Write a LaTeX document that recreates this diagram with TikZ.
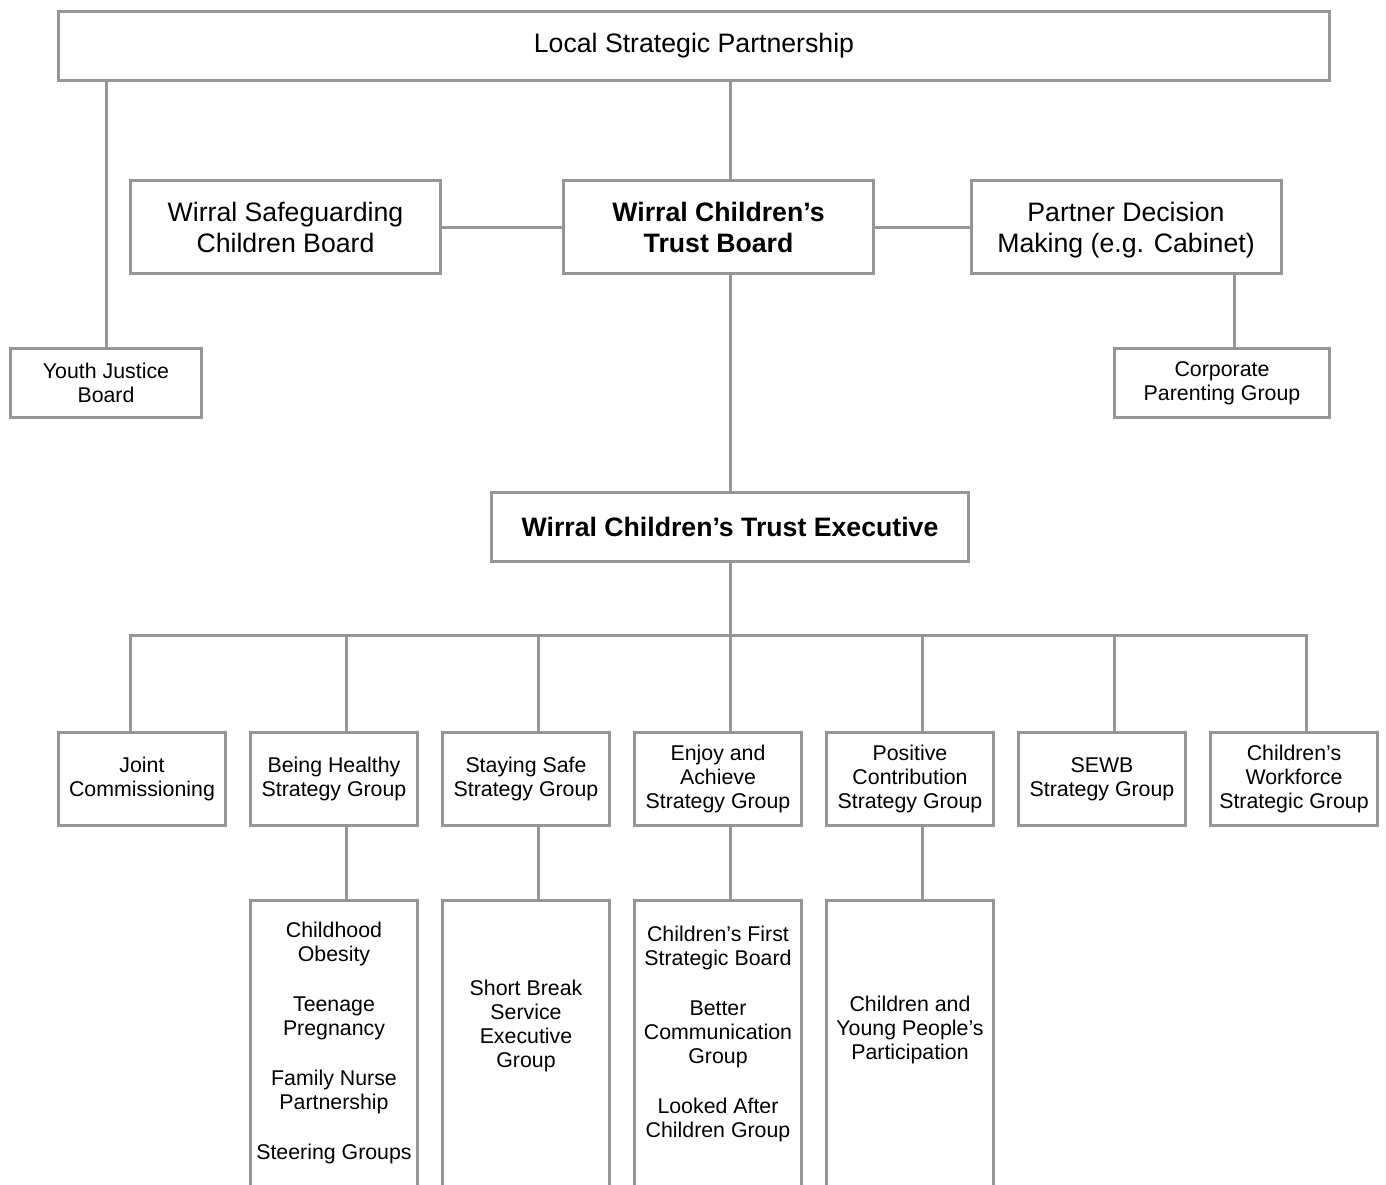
\documentclass[tikz,border=0pt]{standalone}
\usepackage{fontspec}
\setmainfont{Liberation Sans}
\usetikzlibrary{positioning}
\definecolor{wctLine}{HTML}{969696}
\tikzset{
  orgbox/.style   = {draw=wctLine, line width=2.25pt, fill=white, align=center,
                     inner sep=0pt, font=\fontsize{20}{23.25}\selectfont},
  bigbox/.style   = {orgbox, minimum width=232.5pt, minimum height=69.75pt},
  smallbox/.style = {orgbox, minimum height=51.75pt, font=\fontsize{16}{18}\selectfont},
  groupbox/.style = {orgbox, minimum width=125.25pt, minimum height=69.75pt,
                     font=\fontsize{16}{18}\selectfont},
  subbox/.style   = {draw=wctLine, line width=2.25pt, minimum width=125.25pt,
                     minimum height=300pt},
  subtext/.style  = {anchor=north, align=center, inner sep=0pt,
                     font=\fontsize{16}{18}\selectfont},
  tie/.style      = {draw=wctLine, line width=2.25pt},
}

\begin{document}
\begin{tikzpicture}[x=0.75pt, y=-0.75pt]
  \useasboundingbox (0,0) rectangle (1386,1185);

  % top of the structure
  \node[orgbox, minimum width=953.25pt, minimum height=51.75pt] (lsp) at (694,46)
    {Local Strategic Partnership};
  \node[bigbox] (wscb) at (285.5,227) {Wirral Safeguarding\\Children Board};
  \node[bigbox, font=\fontsize{20}{23.25}\selectfont\bfseries] (trust) at (718.5,227)
    {Wirral Children’s\\Trust Board};
  \node[bigbox] (pdm) at (1126,227)
    {Partner Decision\\\raisebox{0pt}[\height][0pt]{Making (e.g. Cabinet)}};
  \node[smallbox, minimum width=143.25pt] (yjb) at (106,383) {Youth Justice\\Board};
  \node[smallbox, minimum width=161.25pt] (cpg) at (1222,383)
    {Corporate\\Parenting Group};
  \node[orgbox, minimum width=357.75pt, minimum height=51.75pt,
        font=\fontsize{20}{23.25}\selectfont\bfseries] (exec) at (730,527)
    {Wirral Children’s Trust Executive};

  \draw[tie] (lsp.south -| exec.north) -- (trust.north -| exec.north);
  \draw[tie] (trust.south -| exec.north) -- (exec.north);
  \draw[tie] (lsp.south -| yjb.north) -- (yjb.north);
  \draw[tie] (wscb.east) -- (trust.west);
  \draw[tie] (trust.east) -- (pdm.west);
  \coordinate (cpgtop) at ([xshift=9pt]cpg.north);
  \draw[tie] (cpgtop |- pdm.south) -- (cpgtop);

  % strategy groups
  \node[groupbox] (joint) at (142,779) {Joint\\Commissioning};
  \node[groupbox, right=16.5pt of joint] (healthy) {Being Healthy\\Strategy Group};
  \node[groupbox, right=16.5pt of healthy] (safe) {Staying Safe\\Strategy Group};
  \node[groupbox, right=16.5pt of safe] (enjoy) {Enjoy and\\Achieve\\Strategy Group};
  \node[groupbox, right=16.5pt of enjoy] (positive)
    {Positive\\Contribution\\Strategy Group};
  \node[groupbox, right=16.5pt of positive] (sewb) {SEWB\\Strategy Group};
  \node[groupbox, right=16.5pt of sewb] (workforce)
    {Children’s\\Workforce\\Strategic Group};

  \coordinate (bus) at ([yshift=-54pt]exec.south);
  \coordinate (jointtop) at ([xshift=-9pt]joint.north);
  \coordinate (healthytop) at ([xshift=9pt]healthy.north);
  \coordinate (safetop) at ([xshift=9pt]safe.north);
  \coordinate (enjoytop) at ([xshift=9pt]enjoy.north);
  \coordinate (positivetop) at ([xshift=9pt]positive.north);
  \coordinate (sewbtop) at ([xshift=9pt]sewb.north);
  \coordinate (workforcetop) at ([xshift=9pt]workforce.north);

  \draw[tie] (exec.south) -- (bus);
  \draw[tie] (jointtop) -- (jointtop |- bus) -- (workforcetop |- bus) -- (workforcetop);
  \draw[tie] (healthytop |- bus) -- (healthytop);
  \draw[tie] (safetop |- bus) -- (safetop);
  \draw[tie] (enjoytop |- bus) -- (enjoytop);
  \draw[tie] (positivetop |- bus) -- (positivetop);
  \draw[tie] (sewbtop |- bus) -- (sewbtop);

  % sub groups, running off the page
  \node[subbox, anchor=north, below=54pt of healthy] (healthysub) {};
  \node[subbox, anchor=north, below=54pt of safe] (safesub) {};
  \node[subbox, anchor=north, below=54pt of enjoy] (enjoysub) {};
  \node[subbox, anchor=north, below=54pt of positive] (positivesub) {};

  \node[subtext, below=16.7pt of healthysub.north] (healthylist)
    {Childhood\\Obesity\\[19.5pt]Teenage\\Pregnancy\\[19.5pt]Family Nurse\\Partnership\\[19.5pt]Steering Groups};
  \node[subtext, below=60.2pt of safesub.north] (safelist)
    {Short Break\\Service\\Executive\\Group};
  \node[subtext, below=19.7pt of enjoysub.north] (enjoylist)
    {Children’s First\\Strategic Board\\[19.5pt]Better\\Communication\\Group\\[19.5pt]Looked After\\Children Group};
  \node[subtext, below=72.2pt of positivesub.north] (positivelist)
    {Children and\\Young People’s\\Participation};

  \draw[tie] (healthytop |- healthy.south) -- (healthytop |- healthysub.north);
  \draw[tie] (safetop |- safe.south) -- (safetop |- safesub.north);
  \draw[tie] (enjoytop |- enjoy.south) -- (enjoytop |- enjoysub.north);
  \draw[tie] (positivetop |- positive.south) -- (positivetop |- positivesub.north);
\end{tikzpicture}
\end{document}
